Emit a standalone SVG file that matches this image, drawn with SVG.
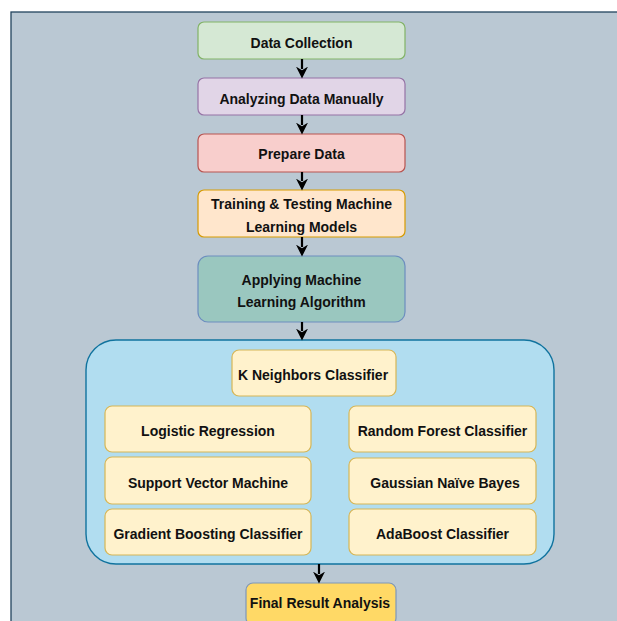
<svg xmlns="http://www.w3.org/2000/svg" width="617" height="621" viewBox="0 0 617 621">
  <style>
    .box { stroke-width: 1.2; }
    .lbl { font-family: "Liberation Sans", Arial, sans-serif; font-weight: bold; font-size: 14px; fill: #111; text-anchor: middle; }
    .clf { fill: #fff2cc; stroke: #d6b656; stroke-width: 1.2; }
    .edge { stroke: #000; stroke-width: 2.2; fill: none; }
  </style>
  <defs>
    <marker id="arrow" viewBox="0 0 10 10" refX="2" refY="5" markerWidth="12" markerHeight="12" markerUnits="userSpaceOnUse" orient="auto">
      <path d="M0,0 L10,5 L0,10 L3,5 z" fill="#000"/>
    </marker>
  </defs>

  <!-- page background -->
  <rect x="0" y="0" width="617" height="621" fill="#ffffff"/>
  <rect x="11" y="12" width="620" height="620" fill="#bac8d3" stroke="#23445d" stroke-width="1.3"/>

  <g id="data-collection">
    <rect class="box" x="198" y="22" width="207" height="37" rx="6" fill="#d5e8d4" stroke="#82b366"/>
    <text class="lbl" x="301.5" y="48">Data Collection</text>
  </g>
  <g id="analyzing-data">
    <rect class="box" x="198" y="78" width="207" height="37" rx="6" fill="#e1d5e7" stroke="#9673a6"/>
    <text class="lbl" x="301.5" y="104">Analyzing Data Manually</text>
  </g>
  <g id="prepare-data">
    <rect class="box" x="198" y="134" width="207" height="38" rx="6" fill="#f8cecc" stroke="#b85450"/>
    <text class="lbl" x="301.5" y="159">Prepare Data</text>
  </g>
  <g id="training-testing">
    <rect class="box" x="198" y="190" width="207" height="47" rx="6" fill="#ffe6cc" stroke="#d79b00"/>
    <text class="lbl" x="301.5" y="209">Training &amp; Testing Machine</text>
    <text class="lbl" x="301.5" y="232">Learning Models</text>
  </g>
  <g id="applying-ml">
    <rect class="box" x="198" y="256" width="207" height="66" rx="10" fill="#9ac7bf" stroke="#6c8ebf"/>
    <text class="lbl" x="301.5" y="285">Applying Machine</text>
    <text class="lbl" x="301.5" y="307">Learning Algorithm</text>
  </g>

  <g id="algorithms">
    <rect x="86" y="340" width="468" height="224" rx="30" fill="#b1ddf0" stroke="#10739e" stroke-width="1.4"/>
    <g id="k-neighbors">
      <rect class="clf" x="232" y="350" width="164" height="46" rx="7"/>
      <text class="lbl" x="313" y="380">K Neighbors Classifier</text>
    </g>
    <g id="logistic-regression">
      <rect class="clf" x="105" y="406" width="206" height="46" rx="7"/>
      <text class="lbl" x="208" y="436">Logistic Regression</text>
    </g>
    <g id="support-vector">
      <rect class="clf" x="105" y="457" width="206" height="47" rx="7"/>
      <text class="lbl" x="208" y="488">Support Vector Machine</text>
    </g>
    <g id="gradient-boosting">
      <rect class="clf" x="105" y="509" width="206" height="46" rx="7"/>
      <text class="lbl" x="208" y="539">Gradient Boosting Classifier</text>
    </g>
    <g id="random-forest">
      <rect class="clf" x="349" y="406" width="187" height="46" rx="7"/>
      <text class="lbl" x="442.5" y="436">Random Forest Classifier</text>
    </g>
    <g id="gaussian-nb">
      <rect class="clf" x="349" y="458" width="187" height="46" rx="7"/>
      <text class="lbl" x="445" y="488">Gaussian Naïve Bayes</text>
    </g>
    <g id="adaboost">
      <rect class="clf" x="349" y="509" width="187" height="46" rx="7"/>
      <text class="lbl" x="442.5" y="539">AdaBoost Classifier</text>
    </g>
  </g>

  <g id="final-result">
    <rect class="box" x="246" y="583" width="150" height="42" rx="7" fill="#ffd966" stroke="#7f97b8"/>
    <text class="lbl" x="320" y="608">Final Result Analysis</text>
  </g>

  <g id="connectors">
    <line class="edge" x1="302" y1="59" x2="302" y2="69" marker-end="url(#arrow)"/>
    <line class="edge" x1="302" y1="115" x2="302" y2="125" marker-end="url(#arrow)"/>
    <line class="edge" x1="302" y1="172" x2="302" y2="181" marker-end="url(#arrow)"/>
    <line class="edge" x1="302" y1="237" x2="302" y2="247" marker-end="url(#arrow)"/>
    <line class="edge" x1="302" y1="322" x2="302" y2="331" marker-end="url(#arrow)"/>
    <line class="edge" x1="319" y1="564" x2="319" y2="574" marker-end="url(#arrow)"/>
  </g>
</svg>
